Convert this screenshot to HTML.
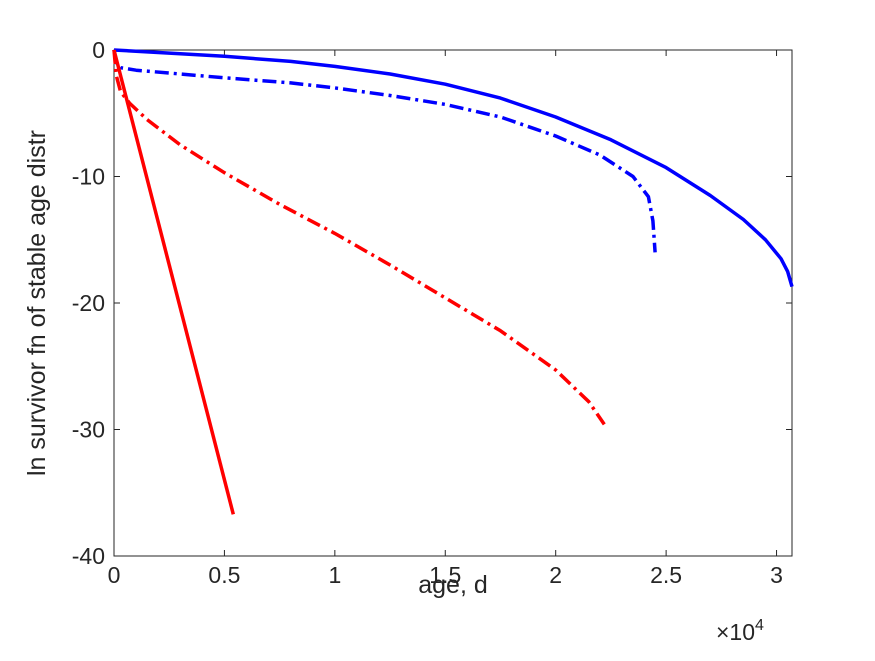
<!DOCTYPE html>
<html><head><meta charset="utf-8"><style>
body{margin:0;background:#fff;}
svg text{font-family:"Liberation Sans",sans-serif;fill:#262626;}
</style></head><body>
<svg id="chart" width="875" height="656" viewBox="0 0 875 656">
<rect width="875" height="656" fill="#fff"/>
<g id="axes"></g>
<g id="series"></g>
</svg>
<script>
const xTicks=[0,5000,10000,15000,20000,25000,30000];
const xTickLabels=["0","0.5","1","1.5","2","2.5","3"];
const yTicks=[0,-10,-20,-30,-40];
const yTickLabels=["0","-10","-20","-30","-40"];
const blueSolidX=[0,2000,5000,8000,10000,12500,15000,17500,20000,22500,25000,27000,28500,29500,30200,30500,30700];
const blueSolidY=[0,-0.2,-0.5,-0.9,-1.3,-1.9,-2.7,-3.8,-5.3,-7.1,-9.3,-11.5,-13.4,-15,-16.5,-17.5,-18.7];
const blueDashX=[0,100,300,1000,3000,5000,8000,10000,12500,15000,17500,20000,22000,23500,24200,24400,24500];
const blueDashY=[0,-1,-1.4,-1.6,-1.9,-2.2,-2.6,-3,-3.6,-4.3,-5.3,-6.8,-8.3,-10,-11.6,-13.5,-16];
const redSolidX=[0,5400];
const redSolidY=[0,-36.7];
const redDashX=[0,100,300,700,1500,3000,5000,7500,10000,12500,15000,17500,20000,21500,22200];
const redDashY=[0,-2,-3.3,-4.2,-5.5,-7.5,-9.7,-12.2,-14.5,-17,-19.6,-22.2,-25.3,-27.8,-29.6];
const X0=114,X1=792,Y0=50,Y1=556,XMAX=30700,YMIN=-40;
const sx=v=>X0+(v/XMAX)*(X1-X0);
const sy=v=>Y0+(v/YMIN)*(Y1-Y0);
const NS="http://www.w3.org/2000/svg";
const ax=document.getElementById('axes'),se=document.getElementById('series');
function mk(tag,attrs,parent){const e=document.createElementNS(NS,tag);for(const k in attrs)e.setAttribute(k,attrs[k]);parent.appendChild(e);return e;}
const box=mk('rect',{x:X0,y:Y0,width:X1-X0,height:Y1-Y0,fill:'none',stroke:'#262626','stroke-width':1},ax);


xTicks.forEach((t,i)=>{
 const x=sx(t);
 const l=mk('line',{x1:x,x2:x,y1:Y1,y2:Y1-6,stroke:'#262626'},ax);
 
 
 mk('line',{x1:x,x2:x,y1:Y0,y2:Y0+6,stroke:'#262626'},ax);
 const tx=mk('text',{x:x,y:Y1+27,'text-anchor':'middle','font-size':23},ax);tx.textContent=xTickLabels[i];
 
 
});
yTicks.forEach((t,i)=>{
 const y=sy(t);
 const l=mk('line',{x1:X0,x2:X0+6,y1:y,y2:y,stroke:'#262626'},ax);
 
 
 mk('line',{x1:X1,x2:X1-6,y1:y,y2:y,stroke:'#262626'},ax);
 const tx=mk('text',{x:X0-9,y:y+8,'text-anchor':'end','font-size':23},ax);tx.textContent=yTickLabels[i];
 
 
});
const xl=mk('text',{x:453,y:593,'text-anchor':'middle','font-size':25},ax);xl.textContent='age, d';


const xe=mk('text',{x:716,y:640,'font-size':23},ax);xe.innerHTML='×10<tspan dy="-10" font-size="16">4</tspan>';


const yl=mk('text',{x:0,y:0,'text-anchor':'middle','font-size':25,transform:'translate(45,303) rotate(-90)'},ax);yl.textContent='ln survivor fn of stable age distr';


function line(xs,ys,color,dash,name){
 const d=xs.map((v,i)=>(i?'L':'M')+sx(v).toFixed(1)+','+sy(ys[i]).toFixed(1)).join('');
 const p=mk('path',{d:d,fill:'none',stroke:color,'stroke-width':3.5,'stroke-dasharray':dash||'none','stroke-linejoin':'round'},se);
 
 
}
line(blueSolidX,blueSolidY,'#0000ff',null,'blue-solid-line');
line(blueDashX,blueDashY,'#0000ff','14,5,3,5','blue-dashdot-line');
line(redSolidX,redSolidY,'#ff0000',null,'red-solid-line');
line(redDashX,redDashY,'#ff0000','14,5,3,5','red-dashdot-line');
</script>
</body></html>
